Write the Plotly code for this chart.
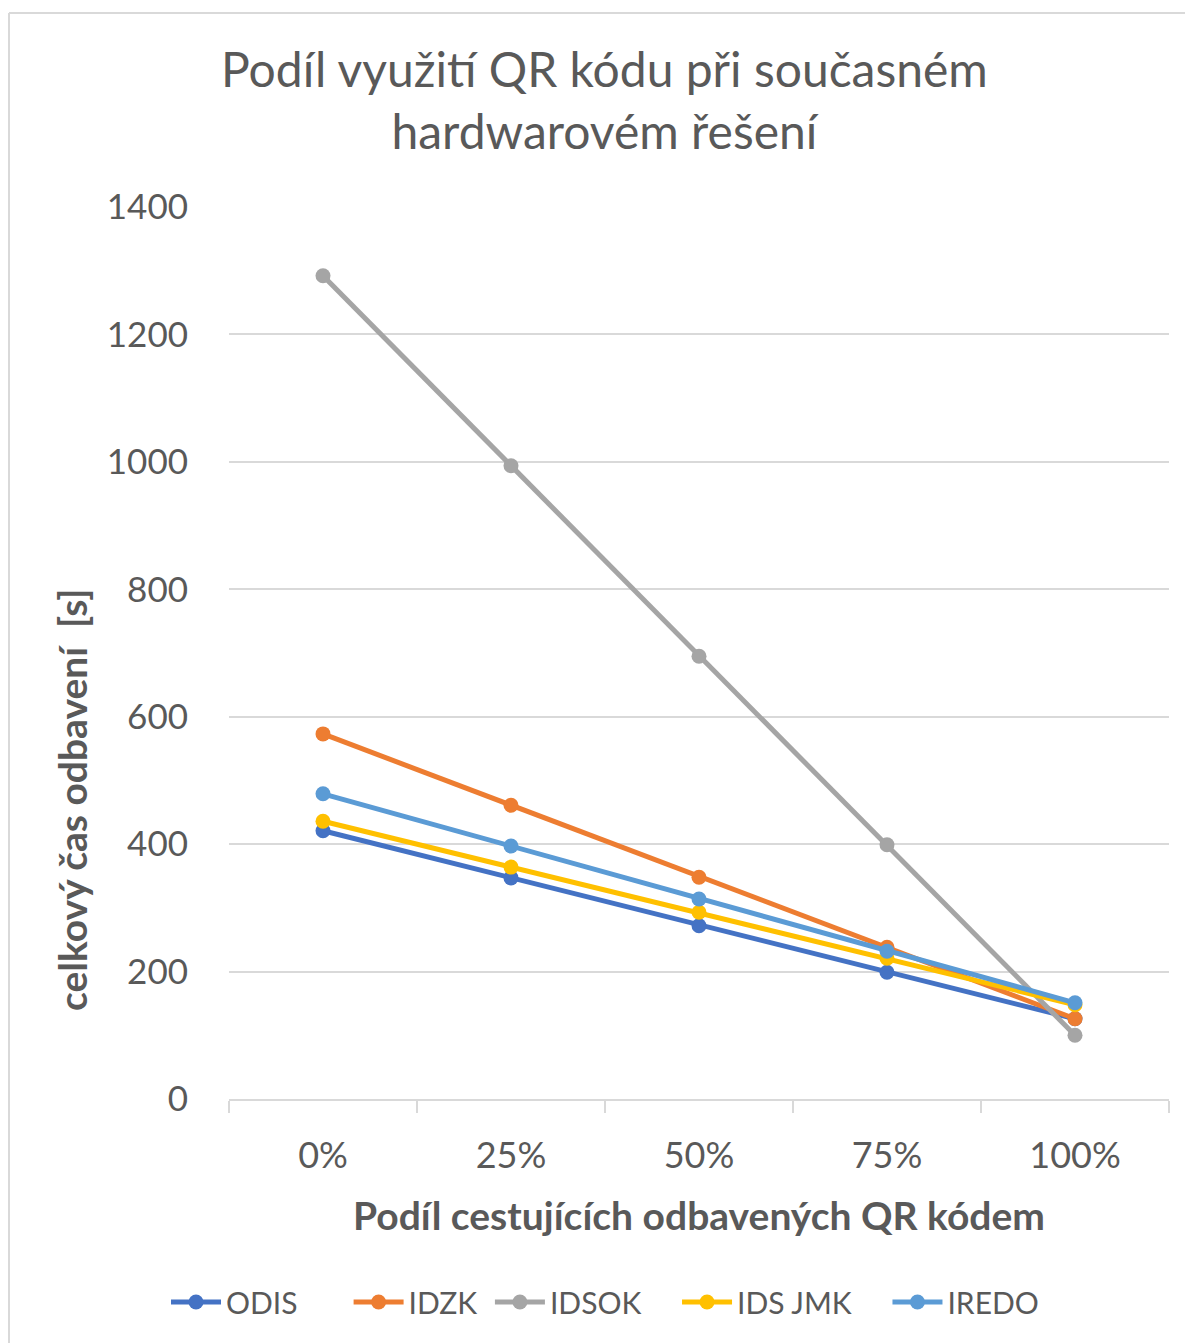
import plotly.graph_objects as go

categories = ["0%", "25%", "50%", "75%", "100%"]
series_names = ["ODIS", "IDZK", "IDSOK", "IDS JMK", "IREDO"]
odis = [421, 347, 272, 199, 126]
idzk = [573, 461, 348, 238, 126]
idsok = [1292, 994, 695, 399, 100]
ids_jmk = [436, 364, 293, 221, 148]
iredo = [479, 397, 314, 232, 151]
y_ticks = [0, 200, 400, 600, 800, 1000, 1200, 1400]

colors = ["#4472C4", "#ED7D31", "#A5A5A5", "#FFC000", "#5B9BD5"]
values = [odis, idzk, idsok, ids_jmk, iredo]
legend_pad = [6, 1, 4, 4, 0]  # trailing non-breaking spaces to mimic legend spacing

FONT = "Lato, 'Open Sans', sans-serif"
GRAY = "#595959"

# page body offsets the figure by 8px; plot area spans screen x 229..1169, y 207..1099
fig = go.Figure()
for name, vals, col, pad in zip(series_names, values, colors, legend_pad):
    fig.add_trace(go.Scatter(
        x=categories, y=vals, name=name + "\u00a0" * pad, mode="lines+markers",
        line=dict(color=col, width=5),
        marker=dict(color=col, size=15),
    ))

W, H = 1185, 1335
fig.update_layout(
    width=W, height=H,
    margin=dict(l=221, r=24, t=199, b=244),
    paper_bgcolor="white", plot_bgcolor="white",
    font=dict(family=FONT, color=GRAY),
    showlegend=True,
    legend=dict(orientation="h", x=(166 - 229) / 940, xanchor="left",
                y=(1099 - 1302) / 892, yanchor="middle",
                font=dict(size=30, color=GRAY), itemwidth=50, tracegroupgap=0),
)
fig.update_xaxes(
    type="category", showgrid=False, showline=True, linecolor="#D9D9D9", linewidth=1.5,
    ticks="outside", tickson="boundaries", ticklen=12, tickcolor="#D9D9D9", tickwidth=1.5,
    tickfont=dict(size=36, color=GRAY), ticklabelstandoff=24, range=[-0.5, 4.5],
)
fig.update_yaxes(
    range=[0, 1400], tickvals=y_ticks, showgrid=True, gridcolor="#D9D9D9", gridwidth=1.5,
    zeroline=False, showline=False, tickfont=dict(size=35, color=GRAY), ticklabelstandoff=40,
)
fig.add_annotation(text="Podíl využití QR kódu při současném<br>hardwarovém řešení",
                   xref="paper", yref="paper",
                   x=(604 - 229) / 940, y=(1099 - 99) / 892, showarrow=False,
                   font=dict(size=48, color=GRAY), xanchor="center", yanchor="middle")
fig.add_annotation(text="<b>celkový čas odbavení  [s]</b>", xref="paper", yref="paper",
                   x=(72 - 229) / 940, y=(1099 - 800) / 892, textangle=-90, showarrow=False,
                   font=dict(size=39, color=GRAY), xanchor="center", yanchor="middle")
fig.add_annotation(text="<b>Podíl cestujících odbavených QR kódem</b>", xref="paper", yref="paper",
                   x=(699 - 229) / 940, y=(1099 - 1215) / 892, showarrow=False,
                   font=dict(size=39, color=GRAY), xanchor="center", yanchor="middle")
# chart frame (top and left edges visible in reference)
fx0, fx1 = (9 - 229) / 940, (1193 - 229) / 940
fy0, fy1 = (1099 - 1343) / 892, (1099 - 13) / 892
fig.add_shape(type="line", xref="paper", yref="paper", x0=fx0, x1=fx1, y0=fy1, y1=fy1,
              line=dict(color="#D9D9D9", width=2), layer="below")
fig.add_shape(type="line", xref="paper", yref="paper", x0=fx0, x1=fx0, y0=fy0, y1=fy1,
              line=dict(color="#D9D9D9", width=2), layer="below")

fig.write_html("out.html")
